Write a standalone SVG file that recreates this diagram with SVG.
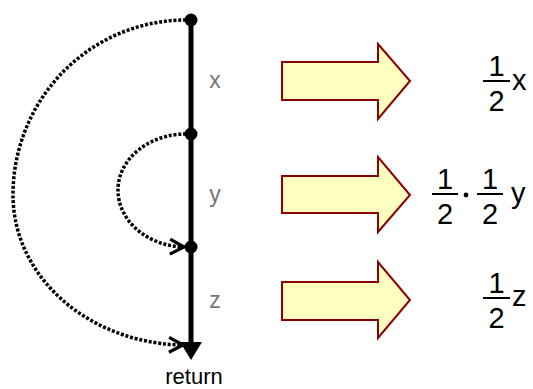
<svg xmlns="http://www.w3.org/2000/svg" width="533" height="389" viewBox="0 0 533 389">
<style>
.lbl{font-family:"Liberation Sans",Arial,sans-serif;font-size:23px;fill:#777777}
.math{font-family:"Liberation Sans",Arial,sans-serif;font-size:29px;fill:#000000}
.ret{font-family:"Liberation Sans",Arial,sans-serif;font-size:22px;fill:#000000}
.dots{fill:none;stroke:#000;stroke-width:3.5;stroke-dasharray:3 1.8}
.barr{fill:#FFFFC0;stroke:#8B0000;stroke-width:2;stroke-linejoin:miter}
.fbar{stroke:#000;stroke-width:2}
</style>
<defs>
<marker id="chev" markerUnits="userSpaceOnUse" markerWidth="20" markerHeight="20" viewBox="-16 -10 20 20" refX="0" refY="0" orient="auto">
<path d="M-14,-7.5 L0,0 L-14,7.5" fill="none" stroke="#000" stroke-width="3.2"/>
</marker>
</defs>
<g id="timeline">
<line x1="191" y1="20" x2="191" y2="344" stroke="#000" stroke-width="5"/>
<polygon points="180,342 202,342 191,360" fill="#000"/>
<circle cx="191" cy="20" r="6.5" fill="#000"/>
<circle cx="191" cy="134" r="6.5" fill="#000"/>
<circle cx="191" cy="247" r="6.5" fill="#000"/>
</g>
<g id="connectors">
<path class="dots" d="M186,20 A173 175 0 0 0 13,195 A173 150 0 0 0 183,345" marker-end="url(#chev)"/>
<path class="dots" d="M186,134 A68 56 0 0 0 118,190 A68 57 0 0 0 184,247" marker-end="url(#chev)"/>
</g>
<g id="labels">
<text class="lbl" x="215" y="88" text-anchor="middle">x</text>
<text class="lbl" x="215" y="202" text-anchor="middle">y</text>
<text class="lbl" x="215" y="308" text-anchor="middle">z</text>
<text class="ret" x="194" y="384" text-anchor="middle">return</text>
</g>
<g id="arrow1">
<polygon class="barr" points="282,62 378,62 378,44 410,81 378,119 378,100 282,100"/>
</g>
<g id="arrow2">
<polygon class="barr" points="282,176 378,176 378,157 410,195 378,232 378,213 282,213"/>
</g>
<g id="arrow3">
<polygon class="barr" points="282,282 378,282 378,262 410,300 378,338 378,320 282,320"/>
</g>
<g id="expr1">
<text class="math" x="496.5" y="76" text-anchor="middle">1</text>
<line class="fbar" x1="483" y1="81" x2="510" y2="81"/>
<text class="math" x="496.5" y="111" text-anchor="middle">2</text>
<text class="math" x="512" y="90">x</text>
</g>
<g id="expr2">
<text class="math" x="445" y="189" text-anchor="middle">1</text>
<line class="fbar" x1="432" y1="194" x2="458" y2="194"/>
<text class="math" x="445" y="224" text-anchor="middle">2</text>
<circle cx="466" cy="195" r="2.4" fill="#000"/>
<text class="math" x="490" y="189" text-anchor="middle">1</text>
<line class="fbar" x1="477" y1="194" x2="503" y2="194"/>
<text class="math" x="490" y="224" text-anchor="middle">2</text>
<text class="math" x="511" y="203">y</text>
</g>
<g id="expr3">
<text class="math" x="496.5" y="293" text-anchor="middle">1</text>
<line class="fbar" x1="483" y1="298" x2="510" y2="298"/>
<text class="math" x="496.5" y="328" text-anchor="middle">2</text>
<text class="math" x="512" y="306">z</text>
</g>
</svg>
